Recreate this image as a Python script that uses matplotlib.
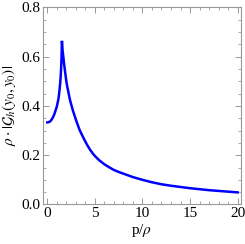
import matplotlib
matplotlib.use("Agg")
import matplotlib.pyplot as plt
from matplotlib.ticker import MultipleLocator

# values
p_over_rho = [0.0, 0.15, 0.3, 0.45, 0.6, 0.75, 0.9, 1.0, 1.1, 1.18, 1.25,
              1.3, 1.35, 1.4, 1.45, 1.5, 1.54, 1.57, 1.6, 1.65, 1.7, 1.75,
              1.85, 1.9, 2.0, 2.1, 2.2, 2.3, 2.4, 2.5, 2.7, 3.0, 3.2, 3.4,
              3.7, 4.0, 4.2, 4.5, 4.8, 5.0, 5.2, 5.5, 6.0, 6.5, 7.0, 7.5,
              8.0, 9.0, 10.0, 11.0, 12.0, 13.0, 14.0, 15.0, 16.0, 17.0,
              18.0, 19.0, 20.0]
g_value = [0.333, 0.334, 0.337, 0.344, 0.354, 0.367, 0.385, 0.397, 0.415,
           0.43, 0.452, 0.47, 0.49, 0.515, 0.55, 0.6, 0.664, 0.645, 0.63,
           0.61, 0.595, 0.575, 0.545, 0.53, 0.5, 0.478, 0.46, 0.44, 0.422,
           0.408, 0.38, 0.345, 0.323, 0.302, 0.278, 0.255, 0.241, 0.222,
           0.206, 0.197, 0.189, 0.178, 0.163, 0.151, 0.14, 0.132, 0.125,
           0.111, 0.1, 0.09, 0.082, 0.076, 0.071, 0.066, 0.062, 0.058,
           0.055, 0.052, 0.049]

x_ticks = [0, 5, 10, 15, 20]
y_ticks = [0.0, 0.2, 0.4, 0.6, 0.8]
y_tick_labels = ["0.0", "0.2", "0.4", "0.6", "0.8"]


def main():
    plt.rcParams["font.family"] = ["Liberation Serif", "DejaVu Serif"]
    plt.rcParams["mathtext.fontset"] = "stix"

    fig = plt.figure(figsize=(2.45, 2.44), dpi=100)
    ax = fig.add_axes([0.1755, 0.162, 0.808, 0.808])
    ax.plot(p_over_rho, g_value, color=(0, 0, 1), lw=1.8,
            solid_joinstyle="miter")

    ax.set_xlim(-0.45, 20.35)
    ax.set_ylim(0, 0.8)
    ax.set_xticks(x_ticks)
    ax.set_yticks(y_ticks)
    ax.set_yticklabels(y_tick_labels)
    ax.xaxis.set_minor_locator(MultipleLocator(1))
    ax.yaxis.set_minor_locator(MultipleLocator(0.05))

    gray = "#999999"
    for s in ax.spines.values():
        s.set_color(gray)
        s.set_linewidth(0.8)
    ax.tick_params(which="both", direction="in", top=True, right=True,
                   color=gray, labelsize=11, labelcolor="black", pad=2)
    ax.tick_params(which="major", length=4, width=0.7)
    ax.tick_params(which="minor", length=2, width=0.6)

    ax.set_xlabel(r"p/$\rho$", fontsize=11, labelpad=1)
    ax.set_ylabel(r"$\rho\cdot|\mathcal{G}_h(y_0,y_0)|$", fontsize=11,
                  labelpad=2)

    fig.savefig("out.png", dpi=100)


if __name__ == '__main__':
    main()
